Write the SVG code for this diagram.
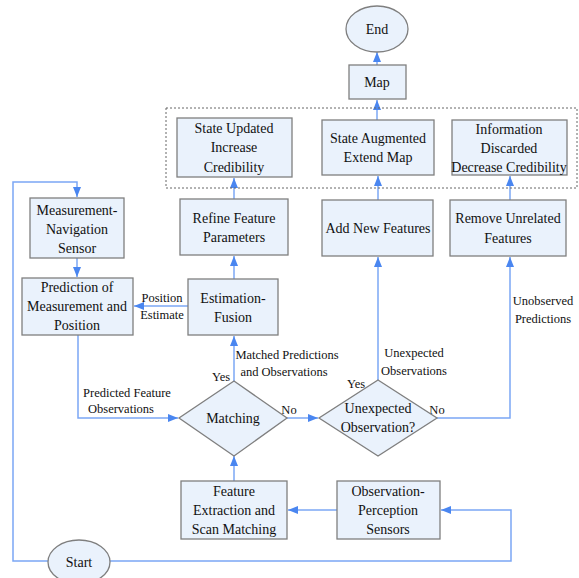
<svg xmlns="http://www.w3.org/2000/svg" width="579" height="578" viewBox="0 0 579 578">
<defs>
<style>
.box{fill:#eaf2fc;stroke:#7f7f7f;stroke-width:1.3}
.c{fill:none;stroke:#7ba7f5;stroke-width:1.5}
</style>
<marker id="ah" markerUnits="userSpaceOnUse" markerWidth="10" markerHeight="10" viewBox="0 0 10 10" refX="10" refY="5" orient="auto">
<path d="M0,1 L10,5 L0,9 Z" fill="#4a86f0"/>
</marker>
</defs>
<rect width="579" height="578" fill="#fff"/>

<g id="connectors">
<path class="c" d="M48,561 H13 V182 H77 V197" marker-end="url(#ah)"/>
<path class="c" d="M110,561 H511 V510 H441" marker-end="url(#ah)"/>
<path class="c" d="M337,510 H288" marker-end="url(#ah)"/>
<path class="c" d="M234,481 V456" marker-end="url(#ah)"/>
<path class="c" d="M77,258 V277" marker-end="url(#ah)"/>
<path class="c" d="M78,335 V418 H178" marker-end="url(#ah)"/>
<path class="c" d="M234,381 V336" marker-end="url(#ah)"/>
<path class="c" d="M188,306 H134" marker-end="url(#ah)"/>
<path class="c" d="M234,279 V256" marker-end="url(#ah)"/>
<path class="c" d="M234,199 V178" marker-end="url(#ah)"/>
<path class="c" d="M287,418 H318" marker-end="url(#ah)"/>
<path class="c" d="M378,380 V257" marker-end="url(#ah)"/>
<path class="c" d="M378,200 V176" marker-end="url(#ah)"/>
<path class="c" d="M437,418 H510 V257" marker-end="url(#ah)"/>
<path class="c" d="M510,200 V176" marker-end="url(#ah)"/>
<path class="c" d="M377,120 V100" marker-end="url(#ah)"/>
<path class="c" d="M377,65 V52" marker-end="url(#ah)"/>
</g>

<g id="labels" fill="#111" text-anchor="middle">
<text font-family="Liberation Serif" font-size="12.5" x="162" y="302">Position</text>
<text font-family="Liberation Serif" font-size="12.5" x="162" y="319">Estimate</text>
<text font-family="Liberation Serif" font-size="12.5" x="287" y="359">Matched Predictions</text>
<text font-family="Liberation Serif" font-size="12.5" x="284" y="376">and Observations</text>
<text font-family="Liberation Serif" font-size="12.5" x="221" y="381">Yes</text>
<text font-family="Liberation Serif" font-size="12.5" x="289" y="414">No</text>
<text font-family="Liberation Serif" font-size="12.5" x="127" y="397">Predicted Feature</text>
<text font-family="Liberation Serif" font-size="12.5" x="121" y="413">Observations</text>
<text font-family="Liberation Serif" font-size="12.5" x="414" y="357">Unexpected</text>
<text font-family="Liberation Serif" font-size="12.5" x="414" y="375">Observations</text>
<text font-family="Liberation Serif" font-size="12.5" x="356" y="388">Yes</text>
<text font-family="Liberation Serif" font-size="12.5" x="437" y="414">No</text>
<text font-family="Liberation Serif" font-size="12.5" x="543" y="305">Unobserved</text>
<text font-family="Liberation Serif" font-size="12.5" x="543" y="323">Predictions</text>
</g>

<g id="group-box">
<rect x="166" y="108" width="411" height="80" fill="none" stroke="#666" stroke-width="1" stroke-dasharray="2,2"/>
</g>

<g id="nodes" fill="#111" text-anchor="middle">
<g id="end">
<ellipse cx="377" cy="29" rx="31" ry="23" class="box"/>
<text font-family="Liberation Serif" font-size="14" x="377" y="34">End</text>
</g>
<g id="map">
<rect x="349" y="65" width="57" height="34" class="box"/>
<text font-family="Liberation Serif" font-size="14" x="377" y="87">Map</text>
</g>
<g id="state-updated">
<rect x="177" y="118" width="115" height="59" class="box"/>
<text font-family="Liberation Serif" font-size="14" x="234" y="133">State Updated</text>
<text font-family="Liberation Serif" font-size="14" x="234" y="152">Increase</text>
<text font-family="Liberation Serif" font-size="14" x="234" y="172">Credibility</text>
</g>
<g id="state-augmented">
<rect x="322" y="120" width="112" height="55" class="box"/>
<text font-family="Liberation Serif" font-size="14" x="378" y="143">State Augmented</text>
<text font-family="Liberation Serif" font-size="14" x="378" y="162">Extend Map</text>
</g>
<g id="info-discarded">
<rect x="452" y="120" width="115" height="55" class="box"/>
<text font-family="Liberation Serif" font-size="14" x="509" y="134">Information</text>
<text font-family="Liberation Serif" font-size="14" x="509" y="153">Discarded</text>
<text font-family="Liberation Serif" font-size="14" x="509" y="172">Decrease Credibility</text>
</g>
<g id="measurement">
<rect x="30" y="198" width="94" height="60" class="box"/>
<text font-family="Liberation Serif" font-size="14" x="77" y="215">Measurement-</text>
<text font-family="Liberation Serif" font-size="14" x="77" y="234">Navigation</text>
<text font-family="Liberation Serif" font-size="14" x="77" y="253">Sensor</text>
</g>
<g id="refine">
<rect x="180" y="199" width="108" height="56" class="box"/>
<text font-family="Liberation Serif" font-size="14" x="234" y="223">Refine Feature</text>
<text font-family="Liberation Serif" font-size="14" x="234" y="242">Parameters</text>
</g>
<g id="add-new">
<rect x="322" y="200" width="111" height="56" class="box"/>
<text font-family="Liberation Serif" font-size="14" x="378" y="233">Add New Features</text>
</g>
<g id="remove">
<rect x="450" y="200" width="116" height="56" class="box"/>
<text font-family="Liberation Serif" font-size="14" x="508" y="223">Remove Unrelated</text>
<text font-family="Liberation Serif" font-size="14" x="508" y="243">Features</text>
</g>
<g id="prediction">
<rect x="22" y="278" width="111" height="57" class="box"/>
<text font-family="Liberation Serif" font-size="14" x="77" y="292">Prediction of</text>
<text font-family="Liberation Serif" font-size="14" x="77" y="311">Measurement and</text>
<text font-family="Liberation Serif" font-size="14" x="77" y="330">Position</text>
</g>
<g id="estimation">
<rect x="188" y="279" width="90" height="56" class="box"/>
<text font-family="Liberation Serif" font-size="14" x="233" y="303">Estimation-</text>
<text font-family="Liberation Serif" font-size="14" x="233" y="322">Fusion</text>
</g>
<g id="matching">
<polygon points="234,381 287,418 234,456 179,418" class="box"/>
<text font-family="Liberation Serif" font-size="14" x="233" y="423">Matching</text>
</g>
<g id="unexpected">
<polygon points="378,380 437,418 378,456 319,418" class="box"/>
<text font-family="Liberation Serif" font-size="14" x="378" y="413">Unexpected</text>
<text font-family="Liberation Serif" font-size="14" x="378" y="432">Observation?</text>
</g>
<g id="feature-extraction">
<rect x="181" y="481" width="106" height="58" class="box"/>
<text font-family="Liberation Serif" font-size="14" x="234" y="496">Feature</text>
<text font-family="Liberation Serif" font-size="14" x="234" y="515">Extraction and</text>
<text font-family="Liberation Serif" font-size="14" x="234" y="534">Scan Matching</text>
</g>
<g id="observation">
<rect x="337" y="481" width="103" height="58" class="box"/>
<text font-family="Liberation Serif" font-size="14" x="388" y="496">Observation-</text>
<text font-family="Liberation Serif" font-size="14" x="388" y="515">Perception</text>
<text font-family="Liberation Serif" font-size="14" x="388" y="534">Sensors</text>
</g>
<g id="start">
<ellipse cx="79" cy="562" rx="31" ry="22" class="box"/>
<text font-family="Liberation Serif" font-size="14" x="79" y="567">Start</text>
</g>
</g>
</svg>
